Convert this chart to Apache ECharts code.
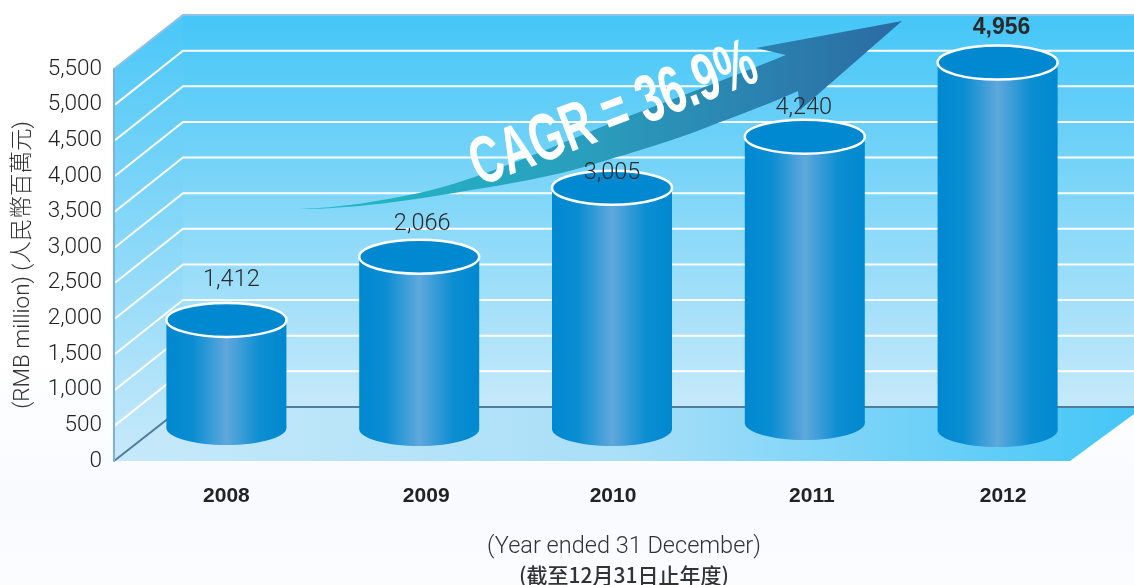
<!DOCTYPE html>
<html>
<head>
<meta charset="utf-8">
<title>CAGR chart</title>
<style>
  html, body { margin: 0; padding: 0; background: #fff; }
  #main { width: 1134px; height: 585px; }
</style>
<script src="https://cdn.jsdelivr.net/npm/echarts@6/dist/echarts.min.js"></script>
</head>
<body>
<div id="main"></div>
<script>
const categories = ['2008', '2009', '2010', '2011', '2012'];
const values = [1412, 2066, 3005, 4240, 4956];
const yTicks = [500, 1000, 1500, 2000, 2500, 3000, 3500, 4000, 4500, 5000];

// the drawn cylinders are not to scale with their labels, so these are
// the levels where top and base centres sit when read against the left axis
const topLevels = [1980, 2865, 3834, 4551, 5590];
const baseLevels = [463, 449, 449, 534, 435];

// layout
const DEPTH_X = 69;
const DEPTH_Y = 54;
const CYL_SHIFT = 16;
const CYL_RX = 60;
const CYL_RY = 17;
const labelNudge = [[5, -40], [3, -33], [0, -15], [-1, -29], [4, -35]];
const yearShift = [32, 46, 34, 46, 43];

const LIGHT_FONT = '300 23.5px Roboto, "Liberation Sans", sans-serif';

const chart = echarts.init(document.getElementById('main'));

function linear(x2, y2, stops) {
  return {
    type: 'linear', x: 0, y: 0, x2: x2, y2: y2,
    colorStops: stops.map((s) => ({ offset: s[0], color: s[1] }))
  };
}

const bodyFill = linear(1, 0, [
  [0, '#0088d0'], [0.22, '#0a8dd2'], [0.5, '#5fa8dc'], [0.78, '#0c8ed2'], [1, '#0088d0']
]);

function renderWalls(params, api) {
  const box = params.coordSys;
  const x0 = box.x;
  const yZero = api.coord([0, 0])[1];
  const yMax = api.coord([0, 5500])[1];
  const backX = x0 + DEPTH_X;
  const right = api.getWidth();
  return {
    type: 'group',
    children: [
      {
        type: 'polygon',
        shape: { points: [[x0, yZero], [x0 + DEPTH_X, yZero - DEPTH_Y], [right, yZero - DEPTH_Y], [right, yZero - 47], [1070, yZero]] },
        style: { fill: linear(1, 0, [[0, '#c6e9fa'], [0.5, '#a9dff8'], [1, '#44c6f7']]) }
      },
      {
        type: 'polygon',
        shape: { points: [[x0, yZero], [backX, yZero - DEPTH_Y], [backX, yMax - DEPTH_Y], [x0, yMax]] },
        style: { fill: linear(0, 1, [[0, '#4ac7f7'], [1, '#c8e9fa']]) }
      },
      {
        type: 'rect',
        shape: { x: backX, y: yMax - DEPTH_Y, width: right - backX, height: yZero - yMax },
        style: { fill: linear(0, 1, [[0, '#44c6f7'], [1, '#c6e9fa']]) }
      },
      {
        type: 'polyline',
        shape: { points: [[x0, yMax], [backX, yMax - DEPTH_Y], [right, yMax - DEPTH_Y]] },
        style: { stroke: '#8fc0e8', lineWidth: 2, fill: 'none' }
      },
      {
        type: 'polyline',
        shape: { points: [[x0, yZero], [backX, yZero - DEPTH_Y], [right, yZero - DEPTH_Y]] },
        style: { stroke: '#4f7d9e', lineWidth: 2, fill: 'none' }
      }
    ]
  };
}

function renderGridline(params, api) {
  const box = params.coordSys;
  const y = api.coord([0, api.value(1)])[1];
  return {
    type: 'polyline',
    shape: { points: [[box.x + 1, y], [box.x + DEPTH_X, y - DEPTH_Y], [api.getWidth(), y - DEPTH_Y]] },
    style: { stroke: '#fff', lineWidth: 2, fill: 'none' }
  };
}

function renderArrow() {
  return {
    type: 'group',
    children: [
      {
        type: 'path',
        shape: { pathData: arrowPath, x: 299, y: 21, width: 603, height: 188, layout: 'cover' },
        style: { fill: linear(1, 0, [[0, '#1fbcc9'], [0.5, '#2a9cbc'], [1, '#2b6aa3']]) }
      },
      {
        type: 'text',
        x: 614,
        y: 116,
        rotation: 0.36,
        scaleX: 0.65,
        style: {
          text: 'CAGR = 36.9%',
          font: 'bold 67px "Liberation Sans", sans-serif',
          fill: '#fff',
          align: 'center',
          verticalAlign: 'middle'
        }
      }
    ]
  };
}

function renderCylinder(params, api) {
  const i = params.dataIndex;
  const top = api.coord([api.value(0), api.value(1)]);
  const base = api.coord([api.value(0), api.value(2)]);
  const cx = top[0] + CYL_SHIFT;
  const last = i === categories.length - 1;
  return {
    type: 'group',
    children: [
      {
        type: 'ellipse',
        shape: { cx: cx, cy: base[1], rx: CYL_RX, ry: CYL_RY },
        style: { fill: bodyFill }
      },
      {
        type: 'rect',
        shape: { x: cx - CYL_RX, y: top[1], width: CYL_RX * 2, height: base[1] - top[1] },
        style: { fill: bodyFill }
      },
      {
        type: 'ellipse',
        shape: { cx: cx, cy: top[1], rx: CYL_RX, ry: CYL_RY },
        style: { fill: '#0088d0', stroke: '#fff', lineWidth: 2.5 }
      },
      {
        type: 'text',
        style: {
          x: cx + labelNudge[i][0],
          y: top[1] + labelNudge[i][1],
          text: api.value(3).toLocaleString('en-US'),
          font: last ? 'bold 23px "Liberation Sans", sans-serif' : LIGHT_FONT,
          fill: '#2a2a2a',
          align: 'center',
          verticalAlign: 'middle'
        }
      }
    ]
  };
}

const yearRich = {};
yearShift.forEach((p, i) => {
  yearRich['y' + i] = { fontFamily: '"Liberation Sans", sans-serif', fontWeight: 'bold', fontSize: 21, color: '#222', padding: [0, 0, 0, p] };
});

const arrowPath = 'M299 209 C340 208 380 201 419 193 C475 181 550 148 611 123 ' +
  'C670 100 730 78 786 55 L756 48 L902 21 L800 110 L798 91 ' +
  'C760 108 725 120 692 133 C650 148 620 156 591 165 C550 177 510 184 471 190 ' +
  'C410 201 350 209 299 209 Z';

chart.setOption({
  backgroundColor: linear(0, 1, [[0, '#ffffff'], [0.6, '#ffffff'], [0.85, '#f8fafe'], [1, '#fbfcfe']]),
  animation: false,
  grid: { left: 114, top: 69, width: 964, height: 392, outerBoundsMode: 'none' },
  xAxis: {
    type: 'category',
    data: categories,
    axisLine: { show: false },
    axisTick: { show: false },
    axisLabel: {
      margin: 25,
      interval: 0,
      formatter: (v, i) => `{y${i}|${v}}`,
      rich: yearRich
    }
  },
  yAxis: {
    type: 'value',
    min: 0,
    max: 5500,
    interval: 500,
    name: '(RMB million) (人民幣百萬元)',
    nameLocation: 'middle',
    nameGap: 79,
    nameRotate: 90,
    nameTextStyle: { fontFamily: 'Roboto, "Noto Sans CJK TC", sans-serif', fontWeight: 300, fontSize: 22.5, color: '#333' },
    axisLine: { show: true, lineStyle: { color: '#7eb0e0', width: 2 } },
    axisTick: { show: false },
    splitLine: { show: false },
    axisLabel: {
      margin: 12,
      padding: [8, 0, 0, 0],
      fontFamily: 'Roboto, "Liberation Sans", sans-serif',
      fontWeight: 300,
      fontSize: 22.5,
      color: '#222',
      formatter: (v) => v.toLocaleString('en-US')
    }
  },
  graphic: [
    {
      type: 'text',
      x: 624,
      y: 547,
      style: {
        text: '(Year ended 31 December)',
        font: LIGHT_FONT,
        fill: '#333',
        align: 'center',
        verticalAlign: 'middle'
      }
    },
    {
      type: 'text',
      x: 624,
      y: 575,
      style: {
        text: '(截至12月31日止年度)',
        font: '500 21px "Noto Sans CJK TC", sans-serif',
        fill: '#333',
        align: 'center',
        verticalAlign: 'middle'
      }
    }
  ],
  series: [
    { type: 'custom', z: 0, silent: true, renderItem: renderWalls, data: [[0, 5500]] },
    { type: 'custom', z: 0, silent: true, renderItem: renderGridline, data: yTicks.map((t) => [0, t]) },
    { type: 'custom', z: 1, silent: true, renderItem: renderArrow, data: [[0, 0]] },
    {
      type: 'custom',
      z: 2,
      renderItem: renderCylinder,
      data: categories.map((c, i) => [i, topLevels[i], baseLevels[i], values[i]])
    }
  ]
});
</script>
</body>
</html>
